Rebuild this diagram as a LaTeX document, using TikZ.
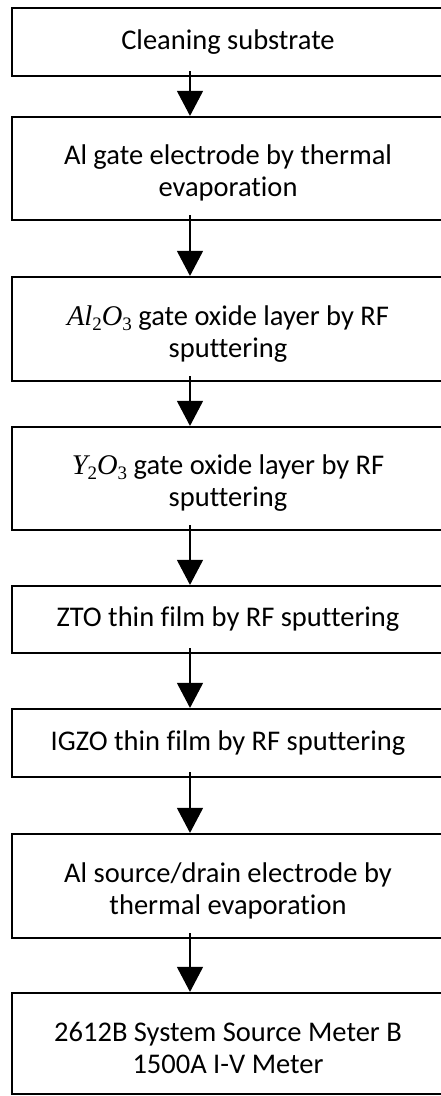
\documentclass[tikz,border=0pt]{standalone}
\usepackage{fontspec}
\setmainfont[Ligatures={NoCommon}]{Carlito}
\newfontfamily\formfont{Liberation Serif}
\usetikzlibrary{arrows.meta}
\newcommand\dnstrut{\rule{0pt}{29pt}}
\newcommand\chem[2]{{\formfont\itshape #1\raisebox{-5pt}{\fontsize{19}{19}\selectfont\upshape #2}}}
\tikzset{
  box/.style={draw=black, line width=2.2pt, minimum width=432pt, align=center, inner sep=0pt,
    font=\fontsize{28.5}{32}\selectfont},
  arr/.style={line width=1.3pt, -{Triangle[width=26pt,length=25pt]}}
}
\begin{document}
\begin{tikzpicture}[x=1pt,y=1pt]
\useasboundingbox (0,0) rectangle (441,-1096);
\node[box, minimum height=68pt]  (b1) at (228,-42)    {Cleaning substrate};
\node[box, minimum height=103pt] (b2) at (228,-168.5) {\dnstrut Al gate electrode by thermal\\evaporation};
\node[box, minimum height=104pt] (b3) at (228,-329)   {\dnstrut\chem{Al}{2}\chem{O}{3} gate oxide layer by RF\\sputtering};
\node[box, minimum height=103pt] (b4) at (228,-478.5) {\dnstrut\chem{Y}{2}\chem{O}{3} gate oxide layer by RF\\sputtering};
\node[box, minimum height=67pt]  (b5) at (228,-619.5) {ZTO thin film by RF sputtering};
\node[box, minimum height=68pt]  (b6) at (228,-743)   {IGZO thin film by RF sputtering};
\node[box, minimum height=104pt] (b7) at (228,-886)   {\dnstrut Al source/drain electrode by\\thermal evaporation};
\node[box, minimum height=101pt] (b8) at (228,-1043.5) {\dnstrut 2612B System Source Meter B\\1500A I-V Meter};
\foreach \a/\b in {b1/b2,b2/b3,b3/b4,b4/b5,b5/b6,b6/b7,b7/b8}
  \draw[arr] ([xshift=-38pt,yshift=6pt]\a.south) -- ([xshift=-38pt]\b.north);
\end{tikzpicture}
\end{document}
